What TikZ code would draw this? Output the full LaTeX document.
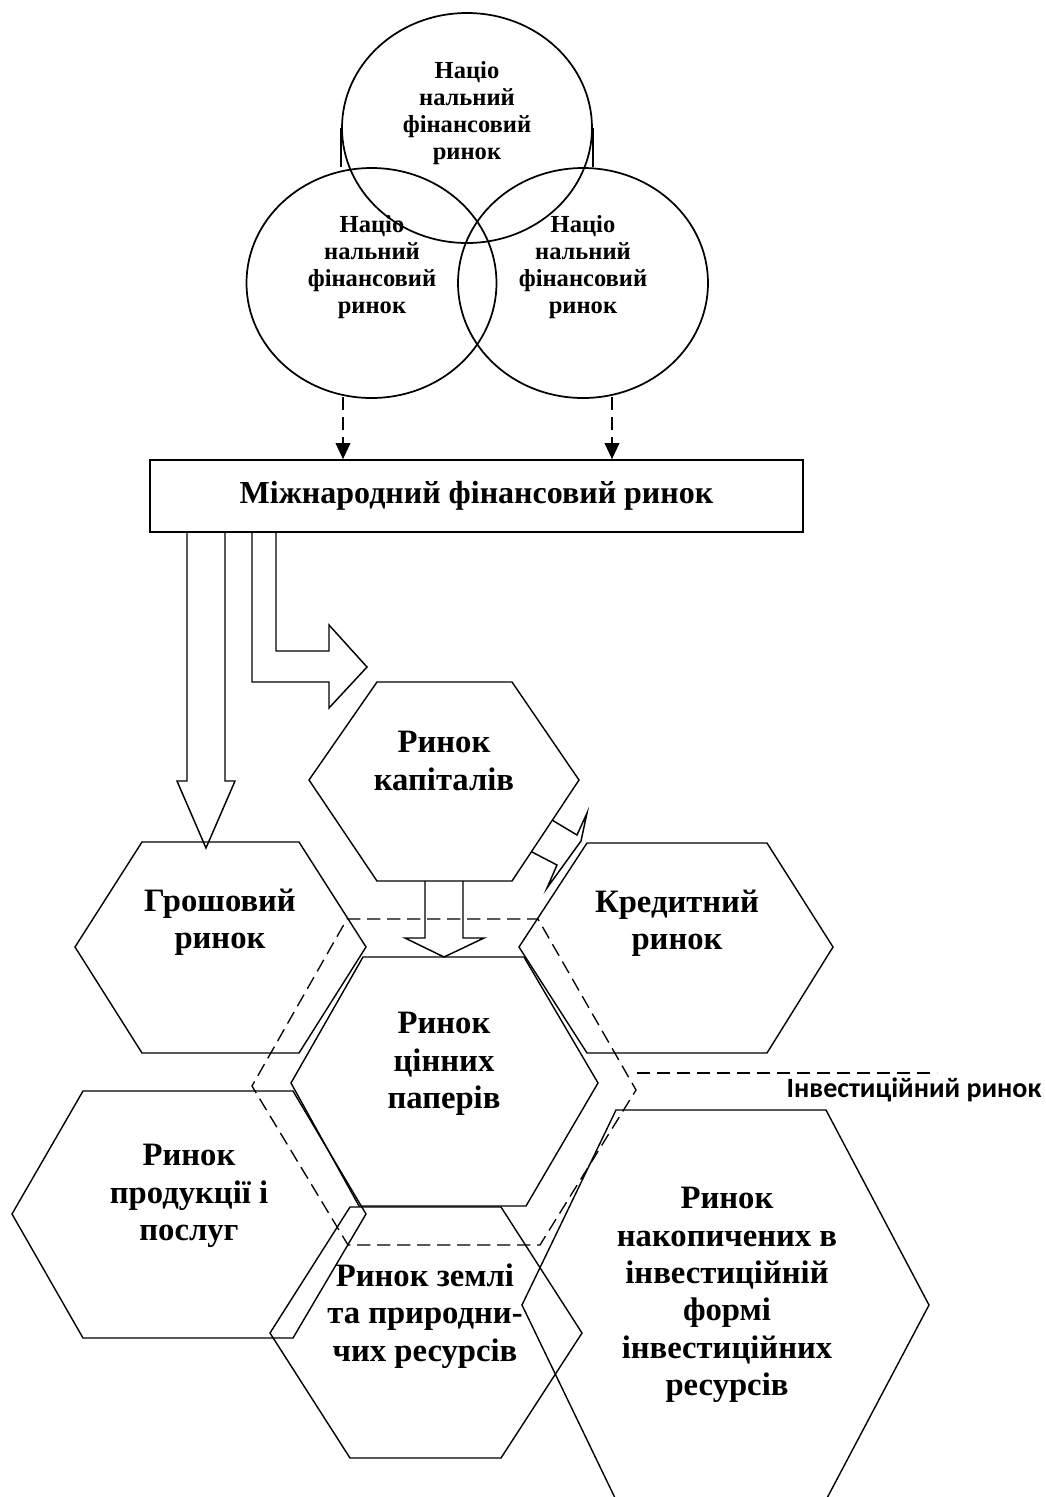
\documentclass[tikz,border=0pt]{standalone}
\usepackage{fontspec}
\setmainfont{Liberation Serif}
\newfontfamily\labfont{Carlito}
\usetikzlibrary{arrows.meta,shapes.geometric}
\begin{document}
\begin{tikzpicture}[x=0.75pt,y=-0.75pt,
  line width=1.05pt, line join=miter,
  circ/.style={draw, ellipse, minimum width=187.5pt, minimum height=172.5pt, inner sep=0pt, line width=1.3pt},
  ctext/.style={font=\bfseries\fontsize{18.4}{20.3}\selectfont, align=center, inner sep=0pt},
  htext/.style={font=\bfseries\fontsize{24.5}{28}\selectfont, align=center, inner sep=0pt},
  hexline/.style={draw, line width=1.05pt},
  dashline/.style={dash pattern=on 10pt off 5pt, line width=1pt},
  dasharrow/.style={dash pattern=on 10pt off 5pt, line width=1.1pt, -{Triangle[length=12pt,width=11pt]}},
  blockarrow/.style={draw, line width=1.1pt}
]
\useasboundingbox (0,0) rectangle (1046,1497);

% circles
\node[circ] (ctop) at (467,128) {};
\node[circ] (cleft) at (371.5,283) {};
\node[circ] (cright) at (583,283) {};
\draw[line width=1.3pt] (ctop.west) -- ++(0,39);
\draw[line width=1.3pt] (ctop.east) -- ++(0,39);
\node[ctext] (ttop) at (467,113) {Націо\\нальний\\фінансовий\\ринок};
\node[ctext] (tleft) at (372,267) {Націо\\нальний\\фінансовий\\ринок};
\node[ctext] (tright) at (583,267) {Націо\\нальний\\фінансовий\\ринок};

% international market box
\node[draw, line width=1.3pt, minimum width=489.75pt, minimum height=54pt, inner sep=0pt,
      font=\bfseries\fontsize{24}{28}\selectfont] (box) at (476.5,496) {Міжнародний фінансовий ринок};

\coordinate (d1) at (343,397);
\coordinate (d2) at (612,397);
\draw[dasharrow] (d1) -- (d1 |- box.north);
\draw[dasharrow] (d2) -- (d2 |- box.north);

% hexagons
\draw[hexline] (377,682) -- (512,682) -- (579,780) -- (512,881) -- (377,881) -- (309,780) -- cycle;
\draw[hexline] (142,842) -- (299,842) -- (366,947) -- (299,1053) -- (142,1053) -- (75,947) -- cycle;
\draw[hexline] (587,843) -- (767,843) -- (833,947) -- (767,1053) -- (587,1053) -- (519,947) -- cycle;
\draw[hexline] (363,957) -- (524,957) -- (598,1083) -- (526,1206) -- (359,1206) -- (291,1083) -- cycle;
\draw[hexline] (83,1091) -- (293,1091) -- (366,1214) -- (293,1338) -- (83,1338) -- (12,1214) -- cycle;
\draw[hexline] (350,1207) -- (501,1207) -- (582,1333) -- (501,1458) -- (350,1458) -- (270,1333) -- cycle;
\draw[hexline] (616,1110) -- (826,1110) -- (929,1305) -- (826,1500) -- (616,1500) -- (522,1305) -- cycle;

\node[htext] (tcap) at (444,761) {Ринок\\капіталів};
\node[htext] (tgr) at (220,922) {Грошовий\\ринок};
\node[htext] (tkr) at (677,923) {Кредитний\\ринок};
\node[htext] (tcp) at (444,1064) {Ринок\\цінних\\паперів};
\node[htext] (tpr) at (189,1196) {Ринок\\продукції і\\послуг};
\node[htext] (tzm) at (425,1316) {Ринок землі\\та природни-\\чих ресурсів};
\node[htext] (tnk) at (727,1295) {Ринок\\накопичених в\\інвестиційній\\формі\\інвестиційних\\ресурсів};

% block arrows
\draw[blockarrow] (187,532) -- (187,781) -- (177,781) -- (206,848) -- (235,781) -- (225,781) -- (225,532);
\draw[blockarrow] (252,532) -- (252,682) -- (329,682) -- (329,708) -- (367,667) -- (329,625) -- (329,651) -- (276,651) -- (276,532);
\draw[blockarrow] (425,881) -- (425,938) -- (405,938) -- (444,957) -- (484,938) -- (463,938) -- (463,881);
\draw[blockarrow] (552,820) -- (577,835) -- (587,813) -- (581,841) -- (547,888) -- (557,865) -- (532,852);

% investment market boundary
\draw[dashline] (347,919) -- (538,919) -- (636,1090) -- (540,1245) -- (348,1245) -- (252,1086) -- cycle;
\draw[dashline] (637,1073) -- (937,1073);
\node[font=\labfont\bfseries\fontsize{21}{25}\selectfont, anchor=east, inner sep=0pt] (inv) at (1042,1090) {Інвестиційний ринок};
\end{tikzpicture}
\end{document}
